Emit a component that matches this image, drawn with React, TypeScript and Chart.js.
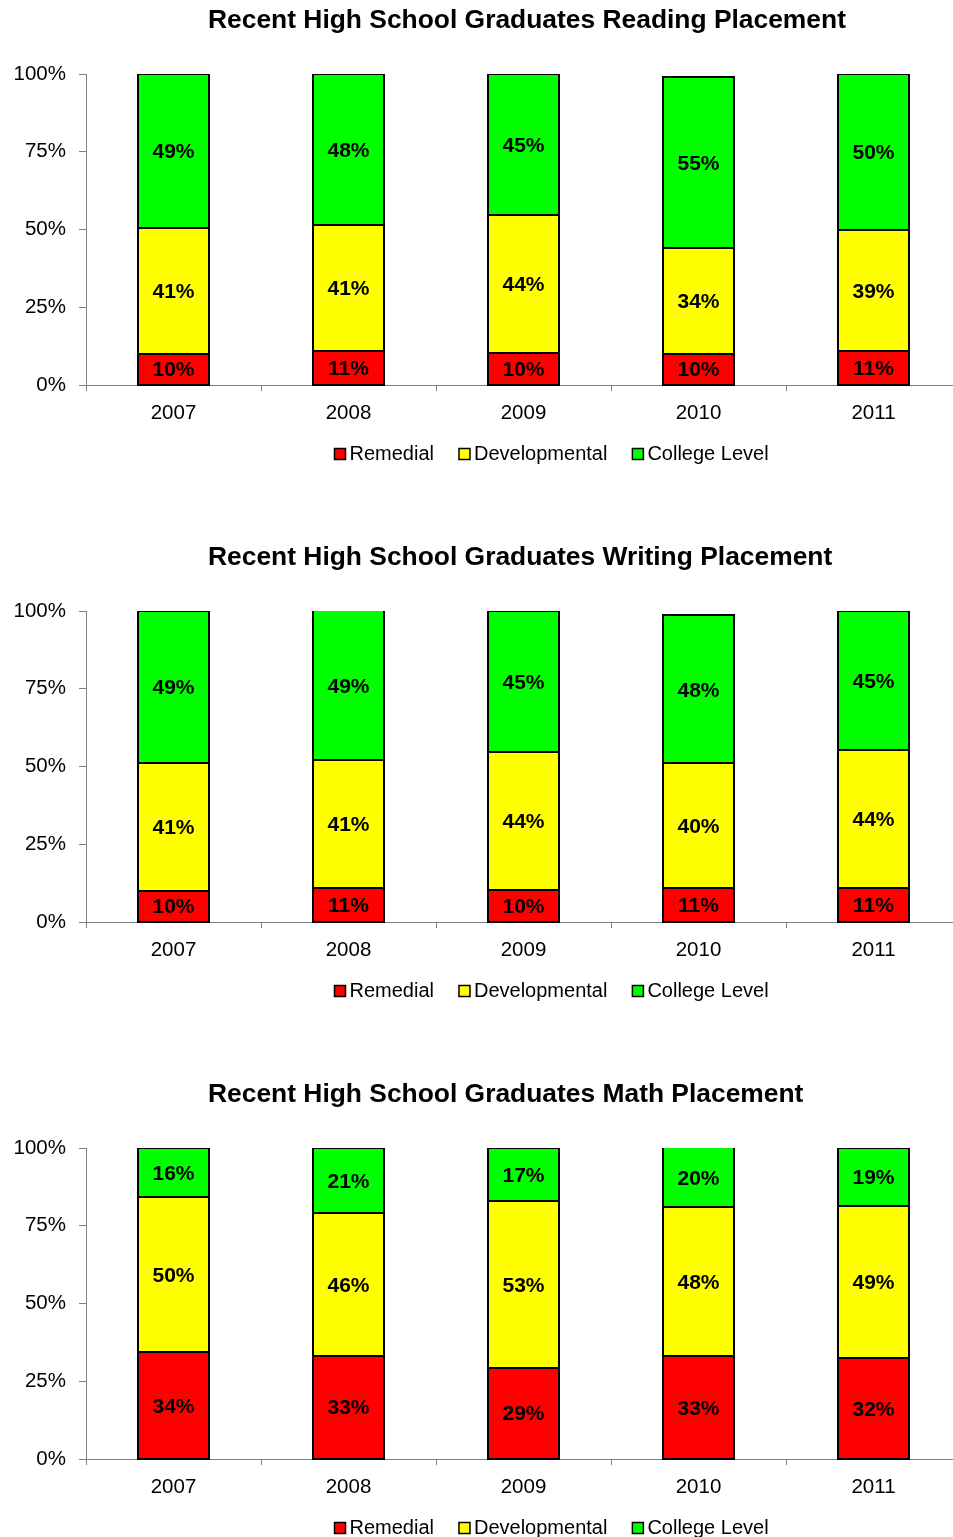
import { useEffect, useRef } from 'react';
import { Chart, registerables } from 'chart.js';

Chart.register(...registerables);

const years = ['2007', '2008', '2009', '2010', '2011'];
const seriesNames = ['Remedial', 'Developmental', 'College Level'];
const seriesColors = ['#FF0000', '#FFFF00', '#00FF00'];

const readingRemedial = [10, 10.9, 10.3, 10, 10.9];
const readingDevelopmental = [40.6, 40.7, 44.4, 34, 38.9];
const readingCollege = [49.4, 48.4, 45.3, 55, 50.2];

const writingRemedial = [10, 11, 10.3, 11, 11];
const writingDevelopmental = [41, 41, 44.4, 40, 44.2];
const writingCollege = [49, 49, 45.3, 47.7, 44.8];

const mathRemedial = [34.4, 33.2, 29.4, 33, 32.4];
const mathDevelopmental = [49.8, 45.8, 53.4, 48, 49];
const mathCollege = [15.8, 21, 17.2, 20, 18.6];

const yTickStep = 25;
const yMax = 100;

const FONT = '"Liberation Sans", Arial, sans-serif';
const CW = 961;
const CH = 537;

function PlacementChart({ title, series }: { title: string; series: number[][] }) {
  const ref = useRef<HTMLCanvasElement>(null);
  useEffect(() => {
    const titlePlugin = {
      id: 'customTitle',
      afterDraw(chart: any) {
        const ctx = chart.ctx;
        ctx.save();
        ctx.font = `bold 26.4px ${FONT}`;
        ctx.fillStyle = '#000';
        ctx.textAlign = 'left';
        ctx.textBaseline = 'middle';
        ctx.fillText(title, 208, 21);
        ctx.restore();
      },
    };
    const outlinePlugin = {
      id: 'segOutlines',
      afterDatasetsDraw(chart: any) {
        const ctx = chart.ctx;
        const area = chart.chartArea;
        ctx.save();
        ctx.beginPath();
        ctx.rect(area.left, area.top, area.right - area.left, area.bottom - area.top + 1);
        ctx.clip();
        ctx.strokeStyle = '#000';
        ctx.lineWidth = 2;
        chart.data.datasets.forEach((_ds: any, i: number) => {
          const meta = chart.getDatasetMeta(i);
          meta.data.forEach((bar: any) => {
            const p = bar.getProps(['x', 'y', 'base', 'width'], true);
            const l = Math.round(p.x - p.width / 2);
            const r = Math.round(p.x + p.width / 2);
            const t = Math.round(Math.min(p.y, p.base));
            const b = Math.round(Math.max(p.y, p.base));
            ctx.strokeRect(l, t, r - l, b - t);
          });
        });
        ctx.restore();
      },
    };
    const labelPlugin = {
      id: 'segLabels',
      afterDatasetsDraw(chart: any) {
        const ctx = chart.ctx;
        const area = chart.chartArea;
        ctx.save();
        ctx.font = `bold 21px ${FONT}`;
        ctx.fillStyle = '#000';
        ctx.textAlign = 'center';
        ctx.textBaseline = 'middle';
        chart.data.datasets.forEach((ds: any, i: number) => {
          const meta = chart.getDatasetMeta(i);
          meta.data.forEach((bar: any, j: number) => {
            const p = bar.getProps(['x', 'y', 'base'], true);
            const top = Math.max(Math.min(p.y, p.base), area.top);
            const bottom = Math.max(p.y, p.base);
            const cy = (top + bottom) / 2 + 1.5;
            ctx.fillText(Math.round(ds.data[j]) + '%', p.x, cy);
          });
        });
        ctx.restore();
      },
    };
    const legendPlugin = {
      id: 'customLegend',
      afterDraw(chart: any) {
        const ctx = chart.ctx;
        ctx.save();
        ctx.font = `20px ${FONT}`;
        ctx.textBaseline = 'middle';
        ctx.textAlign = 'left';
        const box = 11;
        const gapText = 4;
        const gapItem = 25;
        const items = chart.data.datasets.map((ds: any) => ({
          label: ds.label,
          color: ds.backgroundColor,
          w: box + gapText + ctx.measureText(ds.label).width,
        }));
        const total = items.reduce((s: number, it: any) => s + it.w, 0) + gapItem * (items.length - 1);
        let x = Math.round(551 - total / 2) + 0.5;
        const y = chart.chartArea.bottom + 68;
        items.forEach((it: any) => {
          ctx.fillStyle = it.color;
          ctx.fillRect(x, Math.round(y - box / 2) + 0.5, box, box);
          ctx.strokeStyle = '#000';
          ctx.lineWidth = 1.5;
          ctx.strokeRect(x, Math.round(y - box / 2) + 0.5, box, box);
          ctx.fillStyle = '#000';
          ctx.fillText(it.label, x + box + gapText, y + 1);
          x += it.w + gapItem;
        });
        ctx.restore();
      },
    };

    const chart = new Chart(ref.current as HTMLCanvasElement, {
      type: 'bar',
      data: {
        labels: years,
        datasets: series.map((d, i) => ({
          label: seriesNames[i],
          data: d,
          backgroundColor: seriesColors[i],
          borderWidth: 0,
          barPercentage: 71 / 175,
          categoryPercentage: 1,
        })),
      },
      options: {
        responsive: false,
        animation: false,
        devicePixelRatio: 1,
        layout: { padding: { top: 74, left: 0, right: 0, bottom: 0 } },
        plugins: {
          legend: { display: false },
          title: { display: false },
          tooltip: { enabled: false },
        },
        scales: {
          x: {
            stacked: true,
            grid: {
              display: true,
              drawOnChartArea: false,
              drawTicks: true,
              tickLength: 6,
              color: '#808080',
              offset: true,
            },
            border: { display: true, color: '#808080', width: 1 },
            ticks: { color: '#000', font: { family: FONT, size: 20.5 }, padding: 10 },
            afterFit: (s: any) => {
              s.height = CH - 385;
            },
          },
          y: {
            stacked: true,
            min: 0,
            max: yMax,
            grid: {
              display: true,
              drawOnChartArea: false,
              drawTicks: true,
              tickLength: 7,
              color: '#808080',
            },
            border: { display: true, color: '#808080', width: 1 },
            ticks: {
              stepSize: yTickStep,
              color: '#000',
              font: { family: FONT, size: 20.5 },
              padding: 13,
              callback: (v: any) => v + '%',
            },
            afterFit: (s: any) => {
              s.width = 86;
            },
          },
        },
      },
      plugins: [titlePlugin, outlinePlugin, labelPlugin, legendPlugin],
    } as any);
    return () => chart.destroy();
  }, [title, series]);
  return (
    <div style={{ width: 953, height: CH, overflow: 'hidden' }}>
      <canvas ref={ref} width={CW} height={CH} style={{ display: 'block' }} />
    </div>
  );
}

const readingSeries = [readingRemedial, readingDevelopmental, readingCollege];
const writingSeries = [writingRemedial, writingDevelopmental, writingCollege];
const mathSeries = [mathRemedial, mathDevelopmental, mathCollege];

export default function App() {
  return (
    <div
      style={{
        position: 'absolute',
        left: 0,
        top: 0,
        width: 953,
        height: 1537,
        overflow: 'hidden',
        background: '#fff',
      }}
    >
      <PlacementChart title="Recent High School Graduates Reading Placement" series={readingSeries} />
      <PlacementChart title="Recent High School Graduates Writing Placement" series={writingSeries} />
      <PlacementChart title="Recent High School Graduates Math Placement" series={mathSeries} />
    </div>
  );
}
